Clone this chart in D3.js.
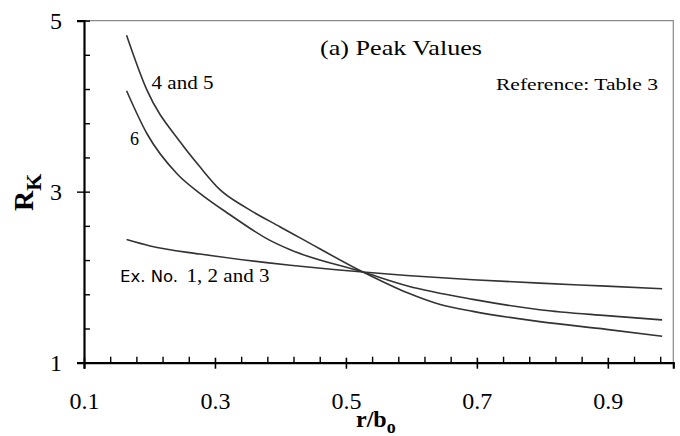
<!DOCTYPE html>
<html><head><meta charset="utf-8">
<script src="https://cdn.jsdelivr.net/npm/d3@7/dist/d3.min.js"></script>
<style>body{margin:0;background:#fff}svg{display:block}</style>
</head><body><svg id="c" width="680" height="436"></svg>
<script>
// ---- data ----
const x45 = [0.165,0.196,0.247,0.277,0.308,0.348,0.399,0.430,0.526,0.593,0.644,0.694,0.796,0.898,0.983];
const y45 = [4.83,4.19,3.58,3.29,3.02,2.81,2.59,2.46,2.06,1.82,1.68,1.60,1.48,1.39,1.31];
const x6  = [0.165,0.196,0.242,0.277,0.323,0.384,0.415,0.526,0.593,0.694,0.796,0.898,0.983];
const y6  = [4.18,3.68,3.21,2.98,2.73,2.43,2.32,2.06,1.90,1.74,1.62,1.55,1.50];
const xEx = [0.165,0.201,0.277,0.379,0.415,0.481,0.526,0.593,0.694,0.796,0.898,0.983];
const yEx = [2.44,2.365,2.27,2.17,2.14,2.09,2.06,2.02,1.97,1.93,1.895,1.865];
const xMajorTicks = [0.1,0.3,0.5,0.7,0.9];
const xMinorTicks = [0.14,0.18,0.22,0.26,0.34,0.38,0.42,0.46,0.54,0.58,0.62,0.66,0.74,0.78,0.82,0.86,0.94,0.98];
const yMajorTicks = [1,3,5];
const yMinorTicks = [1.4,1.8,2.2,2.6,3.4,3.8,4.2,4.6];
const xTickLabels = ["0.1","0.3","0.5","0.7","0.9"];
const yTickLabels = ["1","3","5"];

const svg = d3.select("#c");
const L = 84, R = 673.3, T = 20.6, B = 362.7;
const x = d3.scaleLinear().domain([0.1, 1.0]).range([L, R]);
const y = d3.scaleLinear().domain([1, 5]).range([B, T]);
const serif = "Liberation Serif";
const sans = "DejaVu Sans";

// frame (top/right gray)
svg.append("path").attr("d", `M${L},${T}H${R}V${B}`).attr("fill","none")
  .attr("stroke","#8a8a8a").attr("stroke-width",1.2);

// x axis
const gx = svg.append("g").attr("transform",`translate(0,${B})`);
gx.call(d3.axisBottom(x).tickValues(xMajorTicks).tickSize(6).tickFormat((d,i)=>xTickLabels[i]));
gx.attr("font-family",null);
gx.selectAll(".tick line").attr("y1",-5).attr("y2",6).attr("stroke","#000").attr("stroke-width",1.6);
gx.selectAll(".tick text").attr("y",46).attr("dy",null).style("font-family",serif).attr("font-size",24).attr("fill","#000");
const gxm = svg.append("g").attr("transform",`translate(0,${B})`);
gxm.call(d3.axisTop(x).tickValues(xMinorTicks).tickSize(6).tickFormat(""));
gxm.select(".domain").remove();
gxm.selectAll(".tick line").attr("stroke","#000").attr("stroke-width",1.4);
gx.select(".domain").attr("stroke","#000").attr("stroke-width",2.2);

// y axis
const gy = svg.append("g").attr("transform",`translate(${L},0)`);
gy.call(d3.axisLeft(y).tickValues(yMajorTicks).tickSize(7).tickFormat((d,i)=>yTickLabels[i]));
gy.attr("font-family",null);
gy.selectAll(".tick line").attr("x1",6).attr("x2",-7).attr("stroke","#000").attr("stroke-width",1.4);
gy.selectAll(".tick text").attr("x",-22).attr("dy","0.34em").style("font-family",serif).attr("font-size",24).attr("fill","#000");
const gym = svg.append("g").attr("transform",`translate(${L},0)`);
gym.call(d3.axisRight(y).tickValues(yMinorTicks).tickSize(6).tickFormat(""));
gym.select(".domain").remove();
gym.selectAll(".tick line").attr("stroke","#000").attr("stroke-width",1.4);
gy.select(".domain").attr("stroke","#000").attr("stroke-width",2.2);

// curves
const line = d3.line().x(d=>x(d[0])).y(d=>y(d[1])).curve(d3.curveMonotoneX);
[[x45,y45],[x6,y6],[xEx,yEx]].forEach(([xs,ys])=>{
  svg.append("path").datum(xs.map((v,i)=>[v,ys[i]])).attr("d",line)
    .attr("fill","none").attr("stroke","#333").attr("stroke-width",1.6);
});

// annotations
function txt(tx,ty,s,size,len,fam){
  const t = svg.append("text").attr("x",tx).attr("y",ty).text(s)
    .style("font-family",fam||serif).attr("font-size",size).attr("fill","#000");
  if(len) t.attr("textLength",len).attr("lengthAdjust","spacingAndGlyphs");
  return t;
}
txt(320,55,"(a) Peak Values",22,162);
txt(496,90,"Reference: Table 3",17,162);
txt(151.5,89,"4 and 5",18,62);
txt(130,145,"6",18);
txt(120,282,"Ex. No.",16,58,sans);
txt(186.5,282,"1, 2 and 3",18,83);

// axis titles
const yt = svg.append("text").attr("transform","translate(33,211) rotate(-90)")
  .style("font-family",serif).attr("font-weight","bold").attr("fill","#000");
yt.append("tspan").attr("font-size",28).text("R");
yt.append("tspan").attr("font-size",22).attr("dy",8).text("K");

const xt = svg.append("text").attr("x",356).attr("y",427)
  .style("font-family",serif).attr("font-weight","bold").attr("fill","#000");
xt.append("tspan").attr("font-size",24).text("r/b");
xt.append("tspan").attr("font-size",18).attr("dy",6).text("o");
</script></body></html>
